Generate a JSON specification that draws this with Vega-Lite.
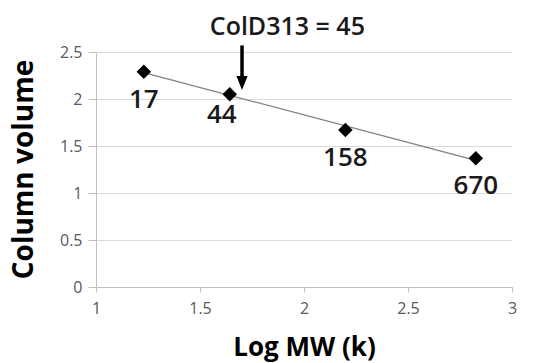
{
  "$schema": "https://vega.github.io/schema/vega-lite/v6.json",
  "width": 416,
  "height": 235,
  "autosize": "none",
  "padding": {"left": 96, "top": 52, "right": 22, "bottom": 76},
  "background": "white",
  "config": {
    "view": {"stroke": null},
    "font": "Open Sans",
    "axis": {
      "labelFont": "Open Sans",
      "labelFontSize": 16,
      "labelColor": "#595959",
      "titleFont": "Open Sans",
      "titleColor": "#000000",
      "titleFontWeight": "bold",
      "domainColor": "#bfbfbf",
      "tickColor": "#bfbfbf",
      "gridColor": "#d9d9d9",
      "gridWidth": 1.2
    }
  },
  "datasets": {
    "points": [
      {"mw": "17", "logmw": 1.230, "volume": 2.29},
      {"mw": "44", "logmw": 1.643, "volume": 2.05},
      {"mw": "158", "logmw": 2.199, "volume": 1.67},
      {"mw": "670", "logmw": 2.826, "volume": 1.37}
    ],
    "arrow": [
      {"label": "ColD313 = 45", "x": 1.702, "ytop": 2.57, "ybase": 2.2, "yhead": 2.17, "xtext": 1.92, "ytext": 2.68}
    ]
  },
  "layer": [
    {
      "data": {"name": "points"},
      "encoding": {
        "x": {
          "field": "logmw", "type": "quantitative",
          "scale": {"domain": [1, 3], "nice": false, "zero": false},
          "axis": {
            "title": "Log MW (k)", "values": [1, 1.5, 2, 2.5, 3], "grid": false,
            "format": "~g",
            "tickSize": 5, "labelPadding": 8, "titleFontSize": 26,
            "titleY": 68, "titleBaseline": "alphabetic", "labelFlush": false
          }
        },
        "y": {
          "field": "volume", "type": "quantitative",
          "scale": {"domain": [0, 2.5], "nice": false},
          "axis": {
            "title": "Column volume", "values": [0, 0.5, 1, 1.5, 2, 2.5],
            "format": "~g",
            "tickSize": 8, "labelPadding": 6, "titleFontSize": 28,
            "titleX": -72, "titleY": 117, "titleAngle": -90,
            "titleAlign": "center", "titleBaseline": "middle"
          }
        }
      },
      "layer": [
        {
          "transform": [{"regression": "volume", "on": "logmw"}],
          "mark": {"type": "line", "color": "#808080", "strokeWidth": 1.2}
        },
        {
          "mark": {"type": "point", "shape": "diamond", "filled": true, "color": "#000000", "size": 210, "opacity": 1}
        },
        {
          "transform": [{"filter": "datum.mw != '44'"}],
          "mark": {"type": "text", "fontSize": 26, "fontWeight": 600, "color": "#1a1a1a", "baseline": "alphabetic", "align": "center", "dy": 36},
          "encoding": {"text": {"field": "mw"}}
        },
        {
          "transform": [{"filter": "datum.mw == '44'"}],
          "mark": {"type": "text", "fontSize": 26, "fontWeight": 600, "color": "#1a1a1a", "baseline": "alphabetic", "align": "center", "dy": 29, "dx": -8},
          "encoding": {"text": {"field": "mw"}}
        }
      ]
    },
    {
      "data": {"name": "arrow"},
      "mark": {"type": "rule", "color": "#000000", "strokeWidth": 3.5},
      "encoding": {
        "x": {"field": "x", "type": "quantitative"},
        "y": {"field": "ytop", "type": "quantitative"},
        "y2": {"field": "ybase"}
      }
    },
    {
      "data": {"name": "arrow"},
      "mark": {"type": "point", "shape": "M-0.8,-1L0.8,-1L0,1Z", "filled": true, "color": "#000000", "size": 196, "opacity": 1},
      "encoding": {
        "x": {"field": "x", "type": "quantitative"},
        "y": {"field": "yhead", "type": "quantitative"}
      }
    },
    {
      "data": {"name": "arrow"},
      "mark": {"type": "text", "fontSize": 25, "fontWeight": 600, "color": "#1a1a1a", "align": "center", "baseline": "alphabetic"},
      "encoding": {
        "x": {"field": "xtext", "type": "quantitative"},
        "y": {"field": "ytext", "type": "quantitative"},
        "text": {"field": "label"}
      }
    }
  ]
}
